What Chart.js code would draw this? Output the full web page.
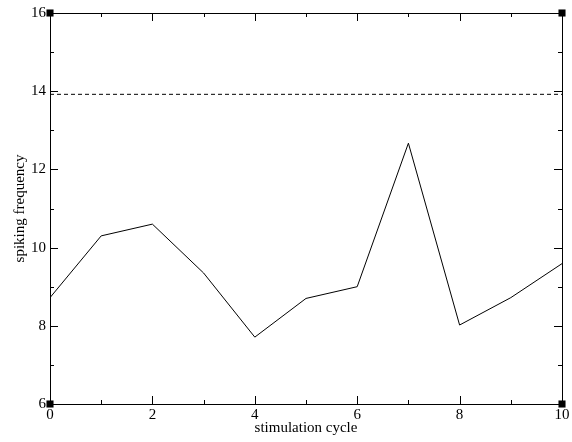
<!DOCTYPE html>
<html lang="en">
<head>
  <meta charset="UTF-8">
  <title>spiking frequency</title>
  <script src="https://cdn.jsdelivr.net/npm/chart.js"></script>
  <style>
    html, body { margin: 0; padding: 0; background: #fff; }
  </style>
</head>
<body>
  <canvas id="grafico" width="572" height="442"></canvas>

  <script>
    // values
    const ciclos = [0, 1, 2, 3, 4, 5, 6, 7, 8, 9, 10];
    const frecuencia = [8.72, 10.3, 10.6, 9.35, 7.71, 8.7, 9.0, 12.67, 8.02, 8.72, 9.59];
    const umbral = 13.92;
    const rangoX = [0, 10];
    const rangoY = [6, 16];

    Chart.defaults.font.family = "'Liberation Serif', 'Times New Roman', serif";
    Chart.defaults.font.size = 15;
    Chart.defaults.color = '#000';

    // inward ticks on all four sides + frame
    const marcoPlugin = {
      id: 'marco',
      beforeDatasetsDraw(chart) {
        const ctx = chart.ctx;
        const a = chart.chartArea;
        const sx = chart.scales.x, sy = chart.scales.y;
        ctx.save();
        ctx.strokeStyle = '#000';
        ctx.lineWidth = 1;
        ctx.strokeRect(a.left + 0.5, a.top + 0.5, a.right - a.left, a.bottom - a.top);
        ctx.beginPath();
        for (let v = rangoX[0]; v <= rangoX[1]; v++) {
          const x = Math.round(sx.getPixelForValue(v)) + 0.5;
          const len = v % 2 === 0 ? 8 : 4;
          ctx.moveTo(x, a.bottom); ctx.lineTo(x, a.bottom - len);
          ctx.moveTo(x, a.top); ctx.lineTo(x, a.top + len);
        }
        for (let v = rangoY[0]; v <= rangoY[1]; v++) {
          const y = Math.round(sy.getPixelForValue(v)) + 0.5;
          const len = v % 2 === 0 ? 8 : 4;
          ctx.moveTo(a.left, y); ctx.lineTo(a.left + len, y);
          ctx.moveTo(a.right, y); ctx.lineTo(a.right - len, y);
        }
        ctx.stroke();
        ctx.restore();
      }
    };

    new Chart(document.getElementById('grafico'), {
      type: 'scatter',
      data: {
        datasets: [
          {
            data: ciclos.map((c, i) => ({ x: c, y: frecuencia[i] })),
            showLine: true,
            borderColor: '#000',
            borderWidth: 1,
            pointRadius: 0,
            tension: 0
          },
          {
            data: rangoX.map(x => ({ x: x, y: umbral })),
            showLine: true,
            borderColor: '#000',
            borderWidth: 1,
            borderDash: [4, 3],
            pointRadius: 0
          },
          {
            data: [
              { x: rangoX[0], y: rangoY[0] }, { x: rangoX[0], y: rangoY[1] },
              { x: rangoX[1], y: rangoY[0] }, { x: rangoX[1], y: rangoY[1] }
            ],
            pointStyle: 'rect',
            pointRadius: 5,
            backgroundColor: '#000',
            borderColor: '#000',
            borderWidth: 0,
            clip: false
          }
        ]
      },
      options: {
        responsive: false,
        animation: false,
        layout: { padding: { top: 12, right: 10, left: 0, bottom: 0 } },
        plugins: { legend: { display: false }, tooltip: { enabled: false } },
        scales: {
          x: {
            type: 'linear',
            min: rangoX[0], max: rangoX[1],
            grid: { display: false, drawTicks: false },
            border: { display: false },
            ticks: { stepSize: 2, padding: 2, maxRotation: 0 },
            title: { display: true, text: 'stimulation cycle', padding: { top: 0, bottom: 5 } },
            afterFit(scale) { scale.height = 38; }
          },
          y: {
            min: rangoY[0], max: rangoY[1],
            grid: { display: false, drawTicks: false },
            border: { display: false },
            ticks: { stepSize: 2, padding: 4 },
            title: { display: true, text: 'spiking frequency', padding: { top: 11, bottom: 0 } },
            afterFit(scale) { scale.width = 50; }
          }
        }
      },
      plugins: [marcoPlugin]
    });
  </script>
</body>
</html>
